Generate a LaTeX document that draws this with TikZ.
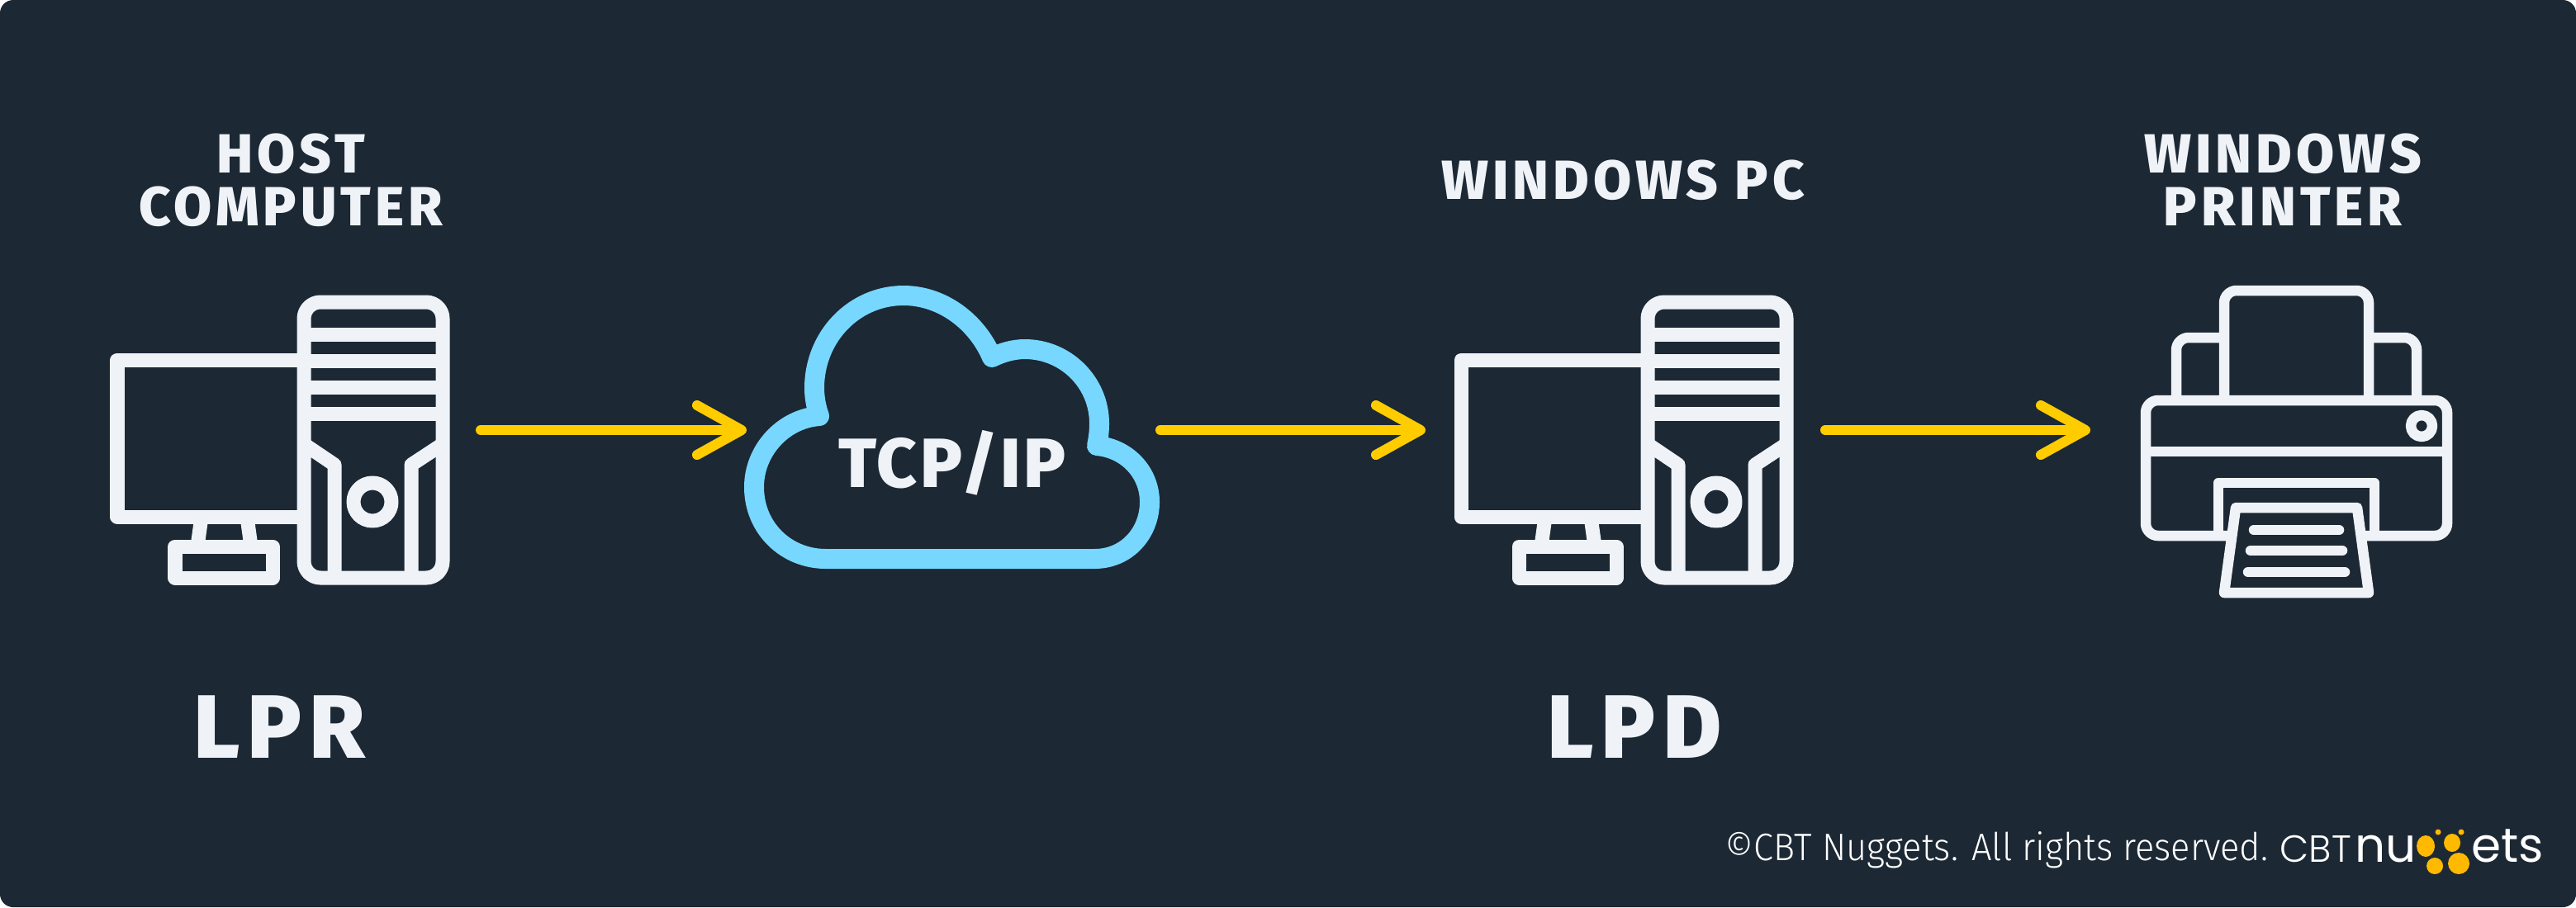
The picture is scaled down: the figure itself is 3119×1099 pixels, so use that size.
\documentclass[tikz,border=0pt]{standalone}
\usepackage{fontspec}
\usepackage{xcolor}
\usetikzlibrary{arrows.meta}
\newfontfamily\headfont[LetterSpace=7.5]{Fira Sans ExtraBold}
\newfontfamily\bigfont[LetterSpace=8]{Fira Sans ExtraBold}
\newfontfamily\cloudfont[LetterSpace=4]{Fira Sans ExtraBold}
\newfontfamily\footfont[FakeStretch=0.935]{Fira Sans Light}
\newfontfamily\logofont{Poppins}
\newfontfamily\logolight{Poppins Light}
\definecolor{panel}{RGB}{28,40,52}
\definecolor{iconwhite}{RGB}{239,243,248}
\definecolor{flow}{RGB}{255,204,0}
\definecolor{cloudblue}{RGB}{119,215,255}
\definecolor{nugget}{RGB}{255,185,0}

\begin{document}
\begin{tikzpicture}[
  x=0.01cm, y=-0.01cm,
  iconline/.style={draw=iconwhite, line width=1.7mm, line join=round},
  printline/.style={draw=iconwhite, line width=1.25mm, line join=round},
  arr/.style={-{Straight Barb[length=5.4mm, width=6mm, round]}, flow,
    line width=1.2mm, line cap=round, line join=round},
  heading/.style={color=iconwhite, align=center, anchor=center,
    font=\headfont\fontsize{19}{18.2}\selectfont},
  proto/.style={color=iconwhite, anchor=base,
    font=\bigfont\fontsize{31}{31}\selectfont},
  foot/.style={color=white, anchor=base west, inner sep=0pt},
  computer/.pic={
    \draw[iconline, rounded corners=2mm] (368,366) rectangle (536,700);
    \foreach \y in {405,437,469,501}
      \draw[iconline] (368,\y) -- (536,\y);
    \draw[iconline] (368,538) -- (405,563) -- (405,700);
    \draw[iconline] (536,538) -- (498,563) -- (498,700);
    \draw[iconline] (451,608) circle (23);
    \draw[iconline] (368,436) -- (142,436) -- (142,626) -- (368,626);
    \draw[iconline] (244,626) -- (239,662);
    \draw[iconline] (299,626) -- (304,662);
    \draw[iconline] (212,662) rectangle (330,700);
  },
]
  \useasboundingbox (0,0) rectangle (3119,1099);
  \fill[panel, rounded corners=1.6mm] (0,0) rectangle (3119,1099);

  % Computers
  \pic at (0,0) {computer};
  \pic at (1627,0) {computer};

  % Cloud
  \draw[cloudblue, line width=2.4mm, line join=round]
    (1000,677) -- (1325,677)
    .. controls (1365,677) and (1392,645) .. (1392,608)
    .. controls (1392,572) and (1364,543) .. (1328,540)
    .. controls (1330,531) and (1331,522) .. (1331,513)
    .. controls (1331,463) and (1290,423) .. (1241,423)
    .. controls (1227,423) and (1213,427) .. (1201,433)
    .. controls (1183,390) and (1141,358) .. (1094,358)
    .. controls (1034,358) and (986,408) .. (986,470)
    .. controls (986,481) and (988,493) .. (992,504)
    .. controls (949,507) and (913,545) .. (913,590)
    .. controls (913,640) and (952,677) .. (1000,677) -- cycle;

  % Printer
  \draw[printline, rounded corners=1.5mm] (2693,485) -- (2693,352) -- (2868,352) -- (2868,485);
  \draw[printline, rounded corners=1.5mm] (2635,485) -- (2635,409) -- (2693,409);
  \draw[printline, rounded corners=1.5mm] (2926,485) -- (2926,409) -- (2868,409);
  \draw[printline, rounded corners=1.5mm] (2598,485) rectangle (2963,649);
  \draw[printline] (2598,547) -- (2963,547);
  \draw[printline] (2932,516) circle (13);
  \draw[printline] (2686,649) -- (2686,585) -- (2875,585) -- (2875,649);
  \draw[printline, fill=panel] (2707,615) -- (2854,615) -- (2868,718) -- (2693,718) -- cycle;
  \draw[printline, line cap=round] (2729,642) -- (2832,642);
  \draw[printline, line cap=round] (2725,667) -- (2836,667);
  \draw[printline, line cap=round] (2722,693) -- (2839,693);

  % Arrows
  \coordinate (hostout) at (582,521);
  \coordinate (cloudin) at (904,521);
  \coordinate (cloudout) at (1405,521);
  \coordinate (pcin) at (1726,521);
  \coordinate (pcout) at (2210,521);
  \coordinate (printerin) at (2531,521);
  \draw[arr] (hostout) -- (cloudin);
  \draw[arr] (cloudout) -- (pcin);
  \draw[arr] (pcout) -- (printerin);

  % Labels
  \node[heading] (host) at (352,218) {HOST\\COMPUTER};
  \node[heading] (winpc) at (1965,218) {WINDOWS PC};
  \node[heading] (winprinter) at (2764,218) {WINDOWS\\PRINTER};
  \node[proto] (lpr) at (338,918) {LPR};
  \node[proto] (lpd) at (1979,918) {LPD};
  \node[color=iconwhite, anchor=base, font=\cloudfont\fontsize{24}{24}\selectfont]
    (tcpip) at (1153,590) {TCP/IP};

  % Footer
  \node[foot, font=\footfont\fontsize{13.2}{13.2}\selectfont] (rights) at (2088,1042)
    {©CBT Nuggets. All rights reserved.};
  \node[foot, font=\logolight\fontsize{13}{13}\selectfont] (cbt) at (2760,1044) {CBT};
  \node[foot, font=\logofont\fontsize{16.5}{16.5}\selectfont] (nu) at (2851,1044) {nu};
  \node[foot, font=\logofont\fontsize{16.5}{16.5}\selectfont] (ets) at (2992,1044) {ets};
  \fill[nugget] (2937,1025) ellipse [x radius=11, y radius=13];
  \fill[nugget] (2969,1021) ellipse [x radius=10, y radius=11];
  \fill[nugget] (2952,1008) circle (3.5);
  \fill[nugget] (2980,1008) circle (3.5);
  \fill[nugget] (2948,1049) circle (10);
  \fill[nugget] (2977,1046) circle (13);
\end{tikzpicture}
\end{document}
